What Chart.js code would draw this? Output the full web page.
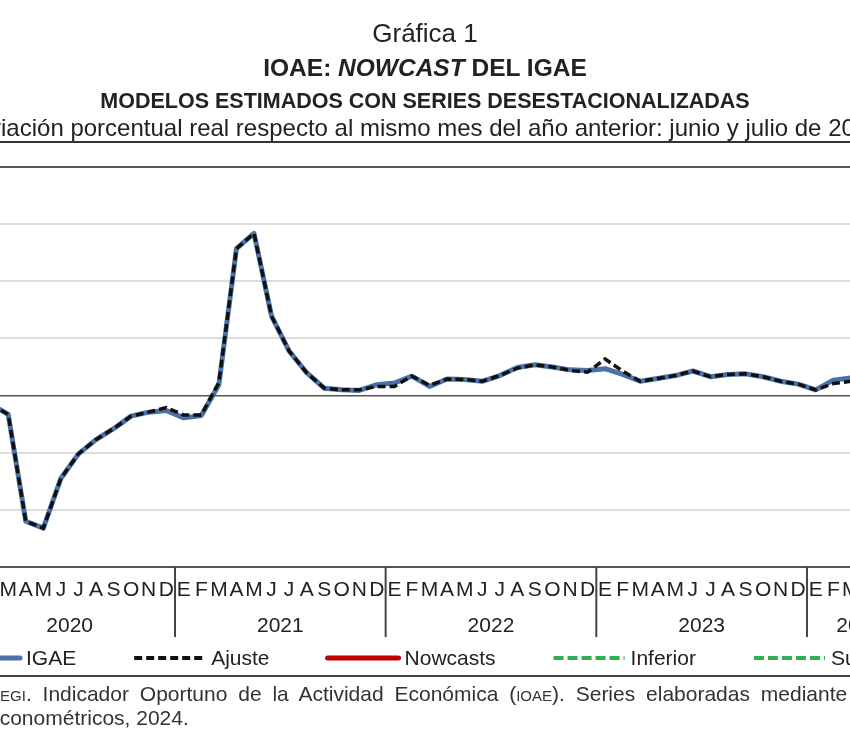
<!DOCTYPE html>
<html><head><meta charset="utf-8">
<script src="https://cdn.jsdelivr.net/npm/chart.js@4"></script>
<style>
html,body{margin:0;padding:0;width:850px;height:750px;overflow:hidden;background:#fff;font-family:"Liberation Sans",Arial,sans-serif;color:#222}
#wrap{position:relative;width:850px;height:750px;overflow:hidden}
canvas{position:absolute;left:-150px;top:0}
.t{position:absolute;white-space:nowrap;left:-200px;width:1250px;text-align:center;line-height:1}
.src{position:absolute;white-space:nowrap;font-size:21px;line-height:1;color:#333}
.sc{font-variant:small-caps}
</style></head><body>
<div id="wrap">
<canvas id="c" width="1150" height="750"></canvas>
<div class="t" style="top:20px;font-size:26px">Gráfica 1</div>
<div class="t" style="top:56px;font-size:24.5px;font-weight:bold">IOAE: <i>NOWCAST</i> DEL IGAE</div>
<div class="t" style="top:90.5px;font-size:21.5px;font-weight:bold">MODELOS ESTIMADOS CON SERIES DESESTACIONALIZADAS</div>
<div class="t" style="top:115.5px;left:-201.5px;font-size:24px">Variación porcentual real respecto al mismo mes del año anterior: junio y julio de 2024</div>
<div style="position:absolute;left:0;top:141px;width:850px;height:2px;background:#333"></div>
<div class="src" id="s1" style="top:683px;word-spacing:5px">Fuente: <span class="sc">inegi</span>. <span id="a1">Indicador</span> Oportuno de la Actividad Económica (<span class="sc">ioae</span>). Series elaboradas mediante modelos</div>
<div class="src" id="s2" style="top:707px">e<span id="a2">conométricos</span>, 2024.</div>
</div>
<script>
// ---- data ----
const monthLetters = ['E','F','M','A','M','J','J','A','S','O','N','D'];
const years = ['2020','2021','2022','2023','2024'];
const monthsIn2024 = 6;
const igae = [
  null, -1.5, -3.3, -22.0, -23.2, -14.5, -10.2, -7.7, -5.8, -3.6, -2.9, -2.6,
  -3.9, -3.5, 1.9, 25.7, 28.4, 13.9, 7.8, 4.0, 1.3, 1.0, 0.9, 1.9,
  2.2, 3.4, 1.6, 2.9, 2.8, 2.5, 3.5, 4.9, 5.4, 5.0, 4.5, 4.4,
  4.7, 3.7, 2.5, 3.0, 3.5, 4.3, 3.3, 3.7, 3.8, 3.3, 2.5, 2.0,
  1.0, 2.7, 3.1, null, null, null
];
const ajuste = [
  null, -1.5, -3.3, -22.0, -23.2, -14.5, -10.2, -7.7, -5.8, -3.6, -2.9, -2.1,
  -3.4, -3.4, 2.3, 25.7, 28.4, 13.9, 7.8, 4.0, 1.3, 1.0, 1.0, 1.6,
  1.6, 3.4, 1.8, 2.9, 2.8, 2.5, 3.5, 4.8, 5.4, 5.0, 4.4, 4.1,
  6.4, 4.3, 2.5, 3.0, 3.5, 4.3, 3.3, 3.7, 3.8, 3.3, 2.5, 2.0,
  1.0, 2.1, 2.5, null, null, null
];
const nowcasts = [];
const inferior = [];
const superior = [];
const yMin = -30, yMax = 40, yStep = 10;

const labels = [];
years.forEach((y, k) => {
  const n = (k === years.length - 1) ? monthsIn2024 : 12;
  for (let m = 0; m < n; m++) labels.push(monthLetters[m] + ' ' + y);
});

const FONT = "'Liberation Sans', Arial, sans-serif";
Chart.defaults.font.family = FONT;

const legendOrder = [0, 1, 2, 3, 4];

const extraPlugin = {
  id: 'extra',
  afterDraw(chart) {
    const ctx = chart.ctx, ca = chart.chartArea, x = chart.scales.x;
    const n = chart.data.labels.length;
    ctx.save();
    // year separators
    ctx.strokeStyle = '#444'; ctx.lineWidth = 2;
    for (let i = 0; i <= n; i += 12) {
      let px;
      if (i === 0) px = x.getPixelForValue(0) - (x.getPixelForValue(1) - x.getPixelForValue(0)) / 2;
      else px = (x.getPixelForValue(i - 1) + x.getPixelForValue(i)) / 2;
      ctx.beginPath(); ctx.moveTo(px, ca.bottom); ctx.lineTo(px, 637); ctx.stroke();
    }
    // year labels
    ctx.fillStyle = '#222'; ctx.font = '21px ' + FONT;
    ctx.textAlign = 'center'; ctx.textBaseline = 'middle';
    years.forEach((y, k) => {
      const first = k * 12, last = Math.min(k * 12 + 11, n - 1);
      const cx = (x.getPixelForValue(first) + x.getPixelForValue(last)) / 2;
      ctx.fillText(y, cx, 626);
    });
    // legend
    const ds = chart.data.datasets;
    let lx = 150 - 51;
    const ly = 658;
    ctx.font = '21px ' + FONT; ctx.textAlign = 'left';
    legendOrder.forEach(i => {
      const d = ds[i];
      ctx.save();
      ctx.strokeStyle = d.borderColor; ctx.lineWidth = d.legendWidth;
      ctx.setLineDash(d.borderDash || []);
      ctx.lineCap = d.borderDash ? 'butt' : 'round';
      ctx.beginPath(); ctx.moveTo(lx, ly); ctx.lineTo(lx + 71, ly); ctx.stroke();
      ctx.restore();
      ctx.fillStyle = '#222';
      ctx.fillText(d.label, lx + 77, ly + 1);
      lx += 77 + ctx.measureText(d.label).width + 58;
    });
    // bottom rule under legend
    ctx.strokeStyle = '#444'; ctx.lineWidth = 2;
    ctx.beginPath(); ctx.moveTo(0, 676); ctx.lineTo(chart.width, 676); ctx.stroke();
    ctx.restore();
  }
};

new Chart(document.getElementById('c'), {
  type: 'line',
  data: {
    labels: labels,
    datasets: [
      { label: 'IGAE', data: igae, borderColor: '#4a72a9', borderWidth: 5, legendWidth: 5,
        pointRadius: 0, borderJoinStyle: 'round', borderCapStyle: 'round', order: 2, tension: 0 },
      { label: 'Ajuste', data: ajuste, borderColor: '#111111', borderWidth: 3.5, legendWidth: 4,
        borderDash: [8, 4], pointRadius: 0, order: 1, tension: 0 },
      { label: 'Nowcasts', data: nowcasts, borderColor: '#c00000', borderWidth: 5, legendWidth: 5,
        pointRadius: 0, order: 0 },
      { label: 'Inferior', data: inferior, borderColor: '#2db04f', borderWidth: 4, legendWidth: 4,
        borderDash: [10, 4], pointRadius: 0, order: 0 },
      { label: 'Superior', data: superior, borderColor: '#2db04f', borderWidth: 4, legendWidth: 4,
        borderDash: [10, 4], pointRadius: 0, order: 0 }
    ]
  },
  options: {
    responsive: false,
    devicePixelRatio: 1,
    animation: false,
    layout: { padding: { left: 114.33, right: 87.7, top: 167, bottom: 0 } },
    plugins: { legend: { display: false }, tooltip: { enabled: false }, title: { display: false } },
    scales: {
      x: {
        type: 'category', offset: true,
        grid: { display: false }, border: { display: false },
        ticks: { autoSkip: false, maxRotation: 0, minRotation: 0, padding: 3, color: '#222',
                 font: { size: 21 }, callback: (v, i) => monthLetters[i % 12] },
        afterFit: s => { s.height = 183; }
      },
      y: {
        min: yMin, max: yMax,
        ticks: { display: false, stepSize: yStep },
        border: { display: false },
        grid: {
          drawTicks: false,
          color: c => (c.tick.value === 0 || c.tick.value === yMax || c.tick.value === yMin) ? '#555' : '#dcdcdc',
          lineWidth: c => (c.tick.value === 0) ? 1.5 : 2
        },
        afterFit: s => { s.width = 0; }
      }
    }
  },
  plugins: [extraPlugin]
});

// position the source lines
const s1 = document.getElementById('s1'), a1 = document.getElementById('a1');
s1.style.left = (43 - a1.offsetLeft) + 'px';
const s2 = document.getElementById('s2'), a2 = document.getElementById('a2');
s2.style.left = (0 - a2.offsetLeft) + 'px';
</script>
</body></html>
